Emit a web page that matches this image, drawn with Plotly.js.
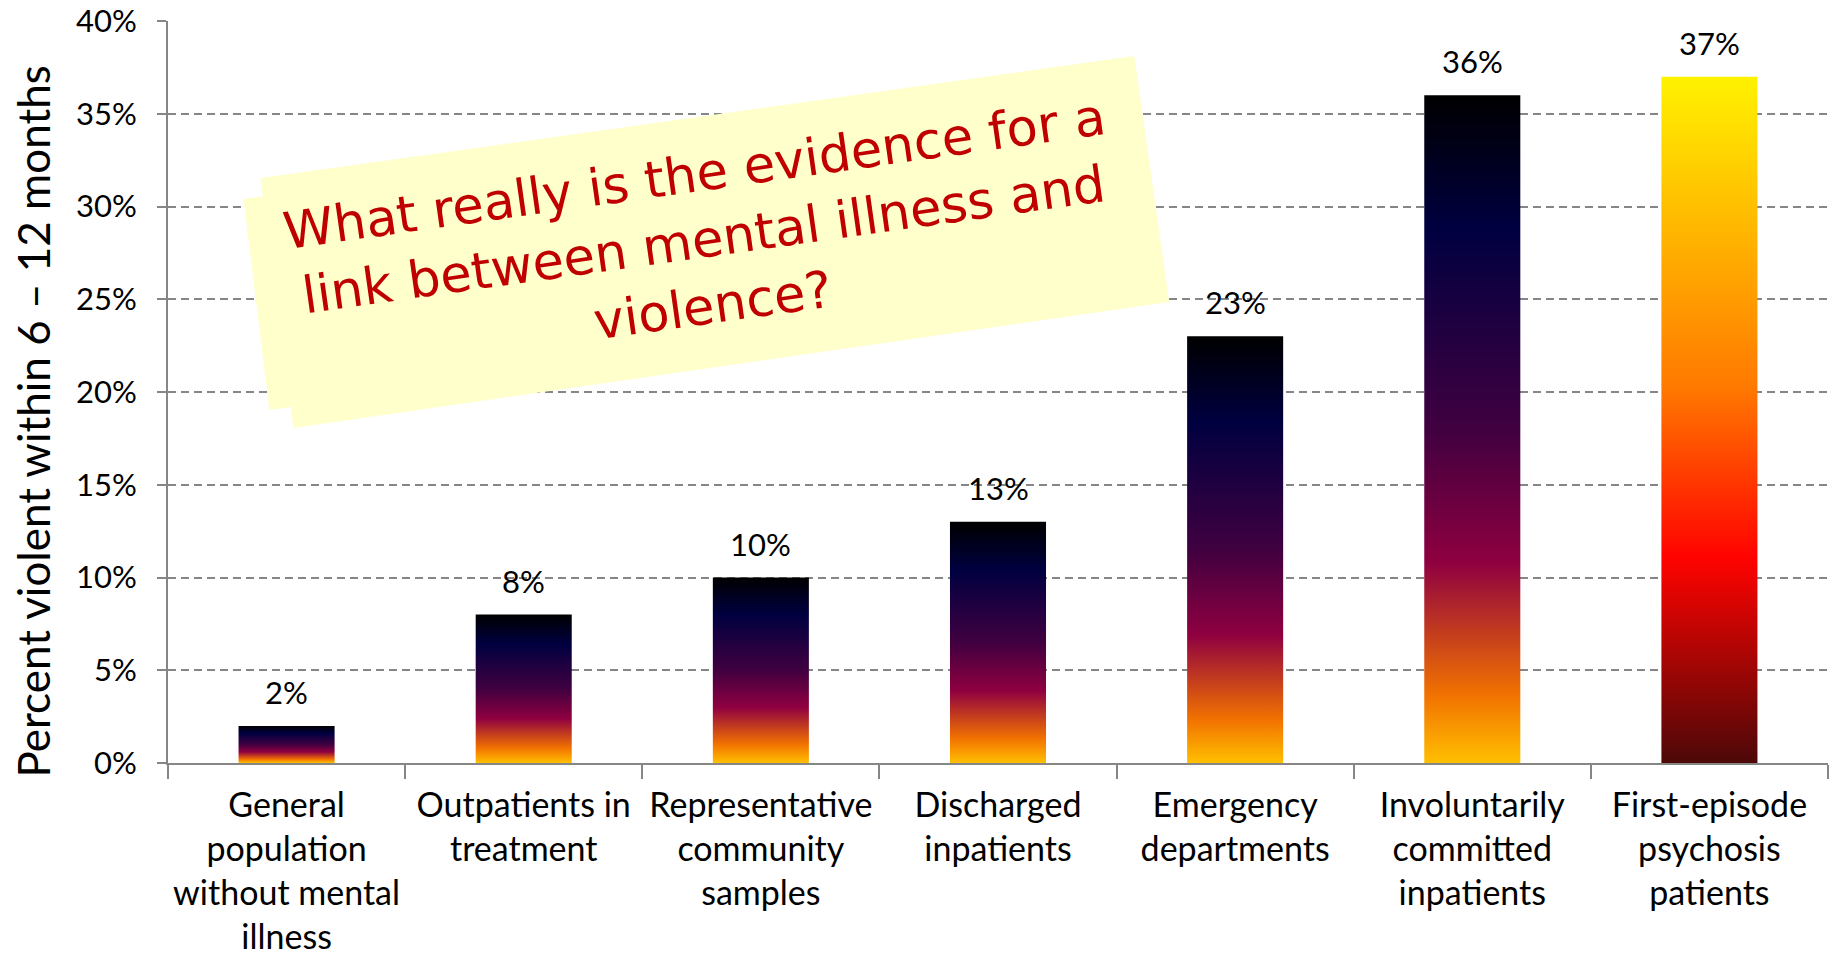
<!DOCTYPE html>
<html><head><meta charset="utf-8">
<script src="https://cdn.plot.ly/plotly-3.0.1.min.js"></script>
<style>html,body{margin:0;padding:0;background:#fff;} #chart{width:1837px;height:961px;}</style>
</head><body><div id="chart"></div>
<script>
// ---- data ----
const categories = [
  "General<br>population<br>without mental<br>illness",
  "Outpatients in<br>treatment",
  "Representative<br>community<br>samples",
  "Discharged<br>inpatients",
  "Emergency<br>departments",
  "Involuntarily<br>committed<br>inpatients",
  "First-episode<br>psychosis<br>patients"
];
const percentViolent = [2, 8, 10, 13, 23, 36, 37];
const valueLabels = ["2%", "8%", "10%", "13%", "23%", "36%", "37%"];
const yTickValues = [0, 5, 10, 15, 20, 25, 30, 35, 40];
const yTickLabels = ["0%", "5%", "10%", "15%", "20%", "25%", "30%", "35%", "40%"];
const yAxisTitle = "Percent violent within 6 – 12 months";
const noteLines = ["What really is the evidence for a", "link between mental illness and", "violence?"];

// ---- styles ----
const sunsetScale = [[0, "#FFBF00"], [0.1, "#F27300"], [0.3, "#8F0040"], [0.5, "#400040"], [0.8, "#000040"], [1, "#000000"]];
const fireScale = [[0, "#4D0808"], [0.3, "#FF0300"], [0.55, "#FF7A00"], [1, "#FFF200"]];
const barScales = [sunsetScale, sunsetScale, sunsetScale, sunsetScale, sunsetScale, sunsetScale, fireScale];
const GRAY = "#868686";
const FONT = "Lato, 'Noto Sans', sans-serif";
const halfWidth = 0.2025;

const traces = [{
  type: "bar",
  x: categories,
  y: percentViolent,
  marker: {color: "rgba(0,0,0,0)"},
  hoverinfo: "x+y",
  showlegend: false
}];
percentViolent.forEach((v, i) => {
  traces.push({
    type: "scatter",
    mode: "lines",
    xaxis: "x2",
    yaxis: "y",
    x: [i - halfWidth, i + halfWidth, i + halfWidth, i - halfWidth, i - halfWidth],
    y: [0, 0, v, v, 0],
    fill: "toself",
    fillgradient: {type: "vertical", colorscale: barScales[i]},
    line: {width: 0, color: "rgba(0,0,0,0)"},
    hoverinfo: "skip",
    showlegend: false
  });
});

const annotations = percentViolent.map((v, i) => ({
  x: categories[i], y: v, xref: "x", yref: "y",
  text: valueLabels[i], showarrow: false, yanchor: "middle", yshift: 34,
  font: {family: FONT, size: 31, color: "#000"}
}));
annotations.push({
  xref: "paper", yref: "paper", x: 0.3225, y: 0.7049, xanchor: "center", yanchor: "middle",
  text: noteLines.join("<br>"), showarrow: false, textangle: -8, align: "center",
  font: {family: "'DejaVu Sans', sans-serif", size: 51, color: "#C00000"}
});
annotations.push({
  xref: "paper", yref: "paper", x: -0.0815, y: 0.4598, xanchor: "center", yanchor: "middle",
  text: yAxisTitle, showarrow: false, textangle: -90,
  font: {family: FONT, size: 44, color: "#000"}
});

function P(px, py) { // pixel -> paper
  return ((px - 167.5) / 1660.5).toFixed(4) + "," + ((763 - py) / 742).toFixed(4);
}
const shapes = [
  {type: "path", xref: "paper", yref: "paper", layer: "above", line: {width: 0}, fillcolor: "#FFFFCC",
   path: "M" + P(243, 199) + " L" + P(820, 118) + " L" + P(844, 328) + " L" + P(269, 410) + " Z"},
  {type: "path", xref: "paper", yref: "paper", layer: "above", line: {width: 0}, fillcolor: "#FFFFCC",
   path: "M" + P(260, 178) + " L" + P(1134, 56) + " L" + P(1169, 302) + " L" + P(293, 428) + " Z"}
];

const layout = {
  width: 1837, height: 961,
  margin: {l: 168, r: 9, t: 21, b: 198},
  paper_bgcolor: "#fff", plot_bgcolor: "#fff",
  font: {family: FONT, color: "#000"},
  bargap: 0.595,
  showlegend: false,
  xaxis: {
    type: "category", range: [-0.5, 6.5], tickson: "boundaries",
    ticks: "outside", ticklen: 14, tickwidth: 2, tickcolor: GRAY, ticklabelstandoff: 11,
    showline: true, linecolor: GRAY, linewidth: 2, showgrid: false, tickangle: 0,
    tickfont: {family: FONT, size: 34, color: "#000"}, automargin: false
  },
  xaxis2: {overlaying: "x", range: [-0.5, 6.5], visible: false, anchor: "y"},
  yaxis: {
    range: [0, 40], tickmode: "array", tickvals: yTickValues, ticktext: yTickLabels,
    ticks: "outside", ticklen: 9, tickwidth: 2, tickcolor: GRAY, ticklabelstandoff: 14,
    showline: true, linecolor: GRAY, linewidth: 2,
    showgrid: true, gridcolor: GRAY, gridwidth: 2, griddash: "8px,5px", zeroline: false,
    tickfont: {family: FONT, size: 31, color: "#000"}, automargin: false
  },
  annotations: annotations,
  shapes: shapes
};
Plotly.newPlot("chart", traces, layout, {displayModeBar: false, staticPlot: true});
</script></body></html>
